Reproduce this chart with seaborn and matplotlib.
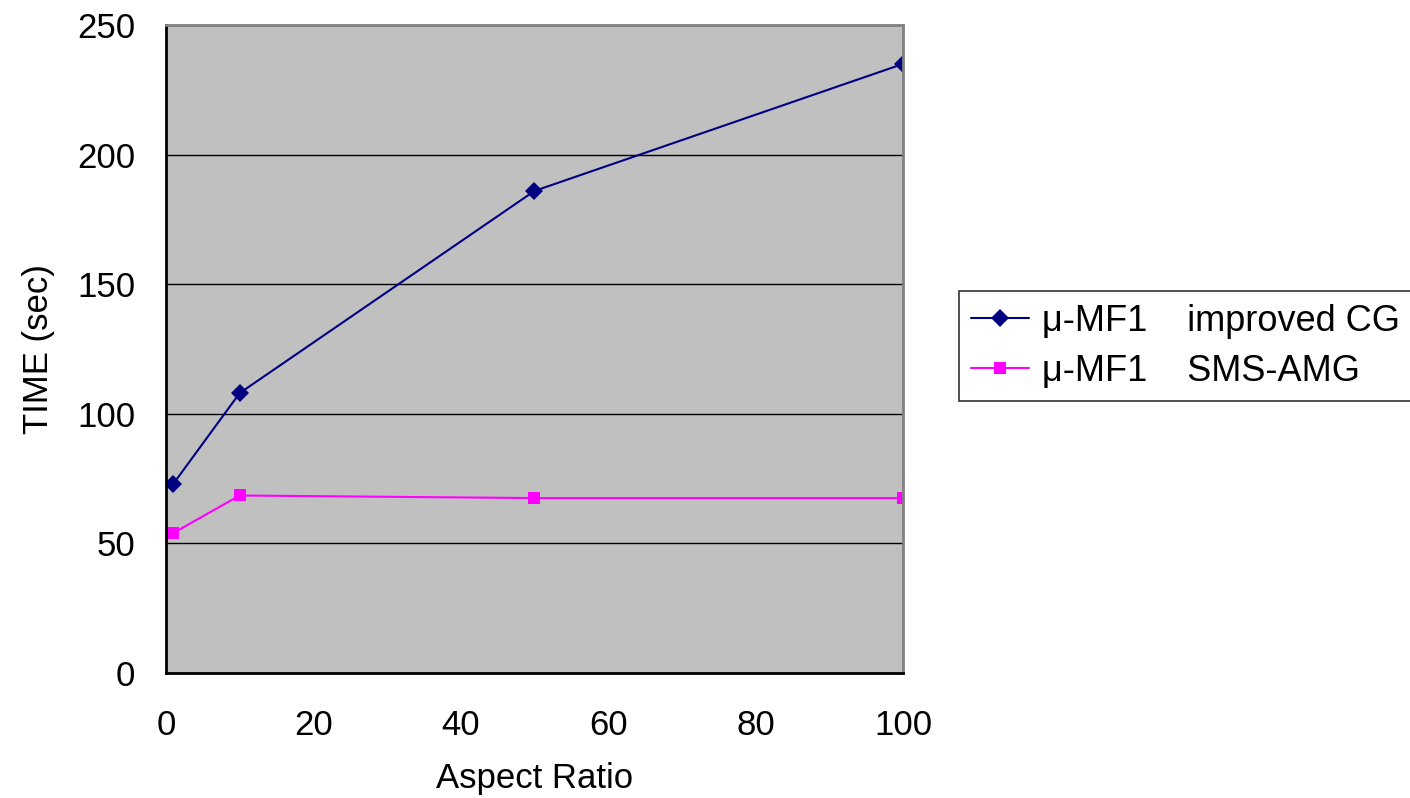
import pandas as pd
import matplotlib.pyplot as plt
import seaborn as sns

sns.set_style("white")
plt.rcParams['font.family'] = ['Liberation Sans', 'DejaVu Sans']
plt.rcParams['text.color'] = 'black'
plt.rcParams['axes.labelcolor'] = 'black'
plt.rcParams['xtick.color'] = 'black'
plt.rcParams['ytick.color'] = 'black'

aspect = [1, 10, 50, 100]
cg_time = [73, 108, 186, 235]
amg_time = [54, 68.5, 67.5, 67.5]
labels = ["μ-MF1    improved CG", "μ-MF1    SMS-AMG"]

df = pd.DataFrame({
    "Aspect Ratio": aspect * 2,
    "TIME (sec)": cg_time + amg_time,
    "series": [labels[0]] * 4 + [labels[1]] * 4,
})

fig = plt.figure(figsize=(14.1, 7.98), dpi=100)
ax = fig.add_axes([0.1177, 0.1566, 0.5227, 0.812])
ax.set_facecolor("#c0c0c0")

sns.lineplot(data=df, x="Aspect Ratio", y="TIME (sec)", hue="series", style="series",
             palette=["#000080", "#ff00ff"], markers=["D", "s"], dashes=False,
             markersize=9, markeredgewidth=0, lw=1.5, ax=ax, legend=True)

ax.set_xlim(0, 100)
ax.set_ylim(0, 250)
ax.set_xticks(range(0, 101, 20))
ax.set_yticks(range(0, 251, 50))
ax.yaxis.grid(True, color="black", lw=1)
ax.set_axisbelow(True)
ax.tick_params(axis="x", direction="in", length=8, labelsize=25, pad=26, width=1)
ax.tick_params(axis="y", direction="out", length=0, labelsize=25, pad=22)
ax.set_xlabel("Aspect Ratio", fontsize=25, labelpad=14)
ax.set_ylabel("TIME (sec)", fontsize=25, labelpad=16)
for s in ["top", "right"]:
    ax.spines[s].set_color("#808080")
    ax.spines[s].set_linewidth(2)
for s in ["left", "bottom"]:
    ax.spines[s].set_color("black")
    ax.spines[s].set_linewidth(2)

leg = ax.legend(loc="center left", bbox_to_anchor=(0.68, 0.495, 0.33, 0.142),
                bbox_transform=fig.transFigure, frameon=True, fancybox=False,
                fontsize=26, handlelength=1.6, handletextpad=0.35, borderaxespad=0,
                labelspacing=0.4, borderpad=0.35)
leg.get_frame().set_edgecolor("black")
leg.get_frame().set_linewidth(1.2)

fig.savefig("out.png", dpi=100)
